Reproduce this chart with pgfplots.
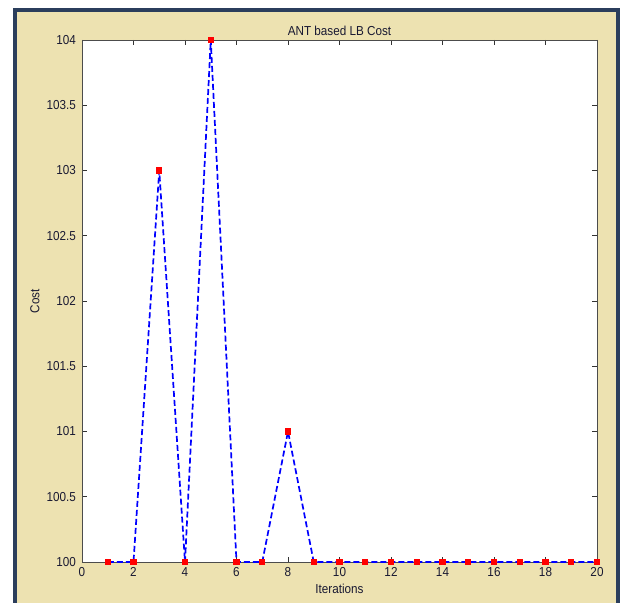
\documentclass[border=0pt]{standalone}
\usepackage{fontspec}
\setmainfont{Liberation Sans}[FakeStretch=0.9]
\usepackage{pgfplots}
\pgfplotsset{compat=1.18}
\definecolor{frameblue}{RGB}{43,62,92}
\definecolor{beige}{RGB}{237,226,177}
\definecolor{labelc}{RGB}{25,25,50}

\begin{document}
\begin{tikzpicture}[x=1pt,y=1pt]
\useasboundingbox (0,0) rectangle (621,603);
\fill[white] (0,0) rectangle (621,603);
\fill[frameblue] (13,0) rectangle (620,595);
\fill[beige] (17,0) rectangle (616,591);
\begin{axis}[
  at={(82pt,41pt)}, anchor=south west,
  scale only axis, width=515pt, height=522pt,
  xmin=0, xmax=20, ymin=100, ymax=104,
  xtick={0,2,4,6,8,10,12,14,16,18,20},
  ytick={100,100.5,101,101.5,102,102.5,103,103.5,104},
  tick align=inside, major tick length=5pt,
  axis background/.style={fill=white},
  axis line style={black!70, line width=0.8pt},
  every tick/.style={black!80, line width=0.8pt},
  clip=false,
  font=\fontsize{13}{15}\selectfont,
  tick label style={font=\fontsize{13}{15}\selectfont, text=labelc},
  /pgf/number format/assume math mode=true,
  xticklabel style={anchor=north, inner sep=0pt, yshift=-5pt},
  yticklabel style={anchor=east, inner sep=0pt, xshift=-6pt},
  title={ANT based LB Cost},
  title style={at={(axis description cs:0.5,1)}, anchor=base, inner sep=0pt, yshift=-2pt, text=labelc},
  xlabel={Iterations},
  xlabel style={at={(axis description cs:0.5,0)}, anchor=base, inner sep=0pt, yshift=-31pt, text=labelc},
  ylabel={Cost},
  ylabel style={at={(axis description cs:0,0.5)}, anchor=center, inner sep=0pt, yshift=47pt, text=labelc},
]
\addplot[blue, line width=1.7pt, dash pattern=on 6pt off 3pt,
  mark=square*, mark size=2.3pt, mark options={solid, fill=red, draw=red}]
  coordinates {
  (1,100)(2,100)(3,103)(4,100)(5,104)(6,100)(7,100)(8,101)(9,100)(10,100)
  (11,100)(12,100)(13,100)(14,100)(15,100)(16,100)(17,100)(18,100)(19,100)(20,100)
  };
\end{axis}
\end{tikzpicture}
\end{document}
